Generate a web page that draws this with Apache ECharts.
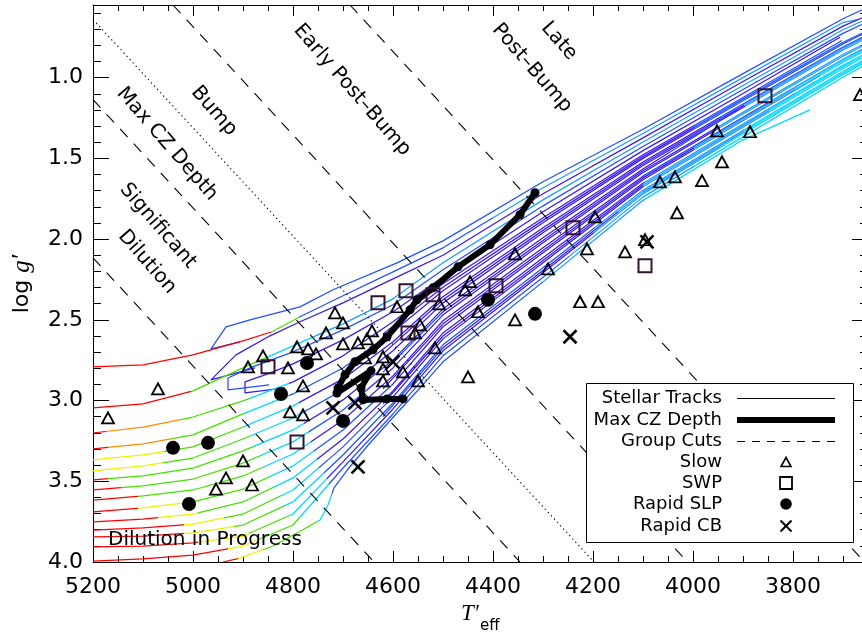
<!DOCTYPE html>
<html>
<head>
<meta charset="utf-8">
<script src="https://cdn.jsdelivr.net/npm/echarts@6/dist/echarts.min.js"></script>
<style>
html, body { margin: 0; padding: 0; background: #ffffff; }
#chart { width: 862px; height: 632px; }
</style>
</head>
<body>
<div id="chart"></div>
<script>
// ---- axes ----
const tRange = [3650, 5200];          // T'eff (K), drawn hot -> cool
const gRange = [0.55, 4.0];           // log g', drawn low -> high downward
const tMajor = [3800, 4000, 4200, 4400, 4600, 4800, 5000, 5200];
const gMajor = [1.0, 1.5, 2.0, 2.5, 3.0, 3.5, 4.0];

// ---- stellar tracks: [T'eff, log g'] ----
// phase arrays: [T'eff where the phase starts, phase code]
const track01 = [[4906,2.637],[4964,2.680],[4934,2.544],[4886,2.500],[4786,2.420],[4720,2.314],[4592,2.147],[4500,2.011],[4300,1.645],[4100,1.320],[3900,0.975],[3700,0.635],[3655,0.570]];
const phase01 = [[5200,6]];
const track02 = [[5200,2.791],[5100,2.779],[5000,2.717],[4900,2.630],[4842,2.574],[4786,2.481],[4700,2.351],[4600,2.203],[4500,2.054],[4300,1.682],[4100,1.346],[3900,1.000],[3700,0.658],[3670,0.640]];
const phase02 = [[5200,0],[4842,3],[4786,6],[4400,5]];
const track03 = [[4876,2.798],[4964,2.872],[4914,2.717],[4846,2.599],[4786,2.512],[4700,2.395],[4600,2.246],[4500,2.100],[4300,1.719],[4100,1.373],[3900,1.024],[3700,0.681],[3655,0.620]];
const phase03 = [[5200,7]];
const track04 = [[5200,3.045],[5100,3.021],[5000,2.940],[4900,2.798],[4800,2.661],[4700,2.525],[4600,2.370],[4500,2.147],[4300,1.757],[4100,1.399],[3900,1.049],[3700,0.703],[3655,0.640]];
const phase04 = [[5200,0],[5000,3],[4850,4],[4760,5]];
const track05 = [[4848,2.903],[4930,2.934],[4930,2.860],[4886,2.798],[4800,2.698],[4700,2.562],[4600,2.407],[4500,2.190],[4300,1.794],[4100,1.426],[3900,1.073],[3700,0.726],[3655,0.660]];
const phase05 = [[5200,6]];
const track06 = [[4816,2.922],[4896,2.953],[4896,2.884],[4856,2.841],[4800,2.773],[4700,2.624],[4600,2.450],[4500,2.235],[4300,1.831],[4100,1.452],[3900,1.098],[3706,0.750]];
const phase06 = [[5200,7]];
const track07 = [[5200,3.201],[5100,3.164],[5000,3.102],[4900,3.002],[4800,2.884],[4700,2.723],[4600,2.512],[4500,2.277],[4300,1.868],[4100,1.478],[3900,1.123],[3702,0.770]];
const phase07 = [[5200,0],[5170,1],[5020,3],[4886,4],[4806,7],[4000,6]];
const track08 = [[5200,3.300],[5100,3.269],[5000,3.213],[4900,3.083],[4800,2.959],[4700,2.798],[4600,2.574],[4500,2.320],[4300,1.899],[4100,1.500],[3900,1.143],[3700,0.791],[3655,0.720]];
const phase08 = [[5200,0],[5166,1],[5040,3],[4896,4],[4806,6],[4650,7],[4000,6]];
const track09 = [[5200,3.368],[5100,3.337],[5000,3.287],[4900,3.164],[4800,3.033],[4700,2.866],[4600,2.636],[4500,2.357],[4300,1.930],[4100,1.522],[3900,1.164],[3700,0.810],[3655,0.740]];
const phase09 = [[5200,2],[5054,3],[4896,4],[4786,7],[3950,6]];
const track10 = [[5200,3.436],[5100,3.405],[5000,3.356],[4900,3.238],[4800,3.108],[4700,2.934],[4600,2.692],[4500,2.395],[4300,1.961],[4100,1.544],[3900,1.184],[3700,0.829],[3655,0.760]];
const phase10 = [[5200,2],[5056,3],[4886,4],[4786,6],[4700,7],[3900,5]];
const track11 = [[5200,3.492],[5100,3.467],[5000,3.418],[4900,3.312],[4800,3.182],[4700,2.996],[4600,2.748],[4500,2.432],[4300,1.992],[4100,1.566],[3912,1.200]];
const phase11 = [[5200,0],[5166,3],[4876,4],[4776,7],[4050,6]];
const track12 = [[5200,3.554],[5100,3.529],[5000,3.486],[4900,3.387],[4800,3.256],[4700,3.058],[4600,2.798],[4500,2.469],[4300,2.023],[4100,1.588],[3900,1.225],[3700,0.867],[3655,0.795]];
const phase12 = [[5200,0],[5140,3],[4866,4],[4766,6],[4650,7],[3950,5]];
const track13 = [[5200,3.616],[5100,3.591],[5000,3.554],[4900,3.467],[4800,3.331],[4700,3.120],[4600,2.847],[4500,2.506],[4300,2.054],[4100,1.610],[3900,1.246],[3700,0.886],[3655,0.813]];
const phase13 = [[5200,0],[5106,3],[4856,4],[4762,7],[4100,6],[3850,5]];
const track14 = [[5200,3.690],[5100,3.665],[5000,3.628],[4900,3.548],[4800,3.405],[4700,3.182],[4600,2.897],[4500,2.543],[4300,2.085],[4100,1.632],[3900,1.266],[3700,0.905],[3655,0.831]];
const phase14 = [[5200,0],[5106,2],[5006,3],[4846,4],[4756,6],[4600,7],[4000,5],[3750,4]];
const track15 = [[5200,3.752],[5100,3.734],[5000,3.703],[4900,3.628],[4800,3.479],[4700,3.238],[4600,2.940],[4500,2.581],[4300,2.116],[4100,1.654],[3900,1.287],[3700,0.924],[3655,0.849]];
const phase15 = [[5200,0],[5066,2],[4986,3],[4836,4],[4750,7],[4100,5],[3800,4]];
const track16 = [[5200,3.802],[5100,3.789],[5000,3.765],[4900,3.703],[4800,3.554],[4700,3.287],[4600,2.977],[4500,2.618],[4300,2.147],[4100,1.676],[3900,1.307],[3700,0.943],[3655,0.867]];
const phase16 = [[5200,0],[5014,2],[4934,3],[4826,4],[4746,6],[4600,7],[4100,5],[3850,4]];
const track17 = [[5200,3.845],[5100,3.839],[5000,3.820],[4900,3.771],[4800,3.628],[4700,3.337],[4600,3.015],[4500,2.655],[4300,2.178],[4100,1.698],[3900,1.328],[3700,0.962],[3655,0.885]];
const phase17 = [[5200,0],[5014,2],[4914,3],[4816,4],[4736,6],[4200,5],[3900,4]];
const track18 = [[5200,3.907],[5100,3.901],[5000,3.882],[4900,3.839],[4800,3.703],[4700,3.380],[4600,3.052],[4500,2.692],[4300,2.209],[4100,1.720],[3900,1.348],[3700,0.981],[3655,0.903]];
const phase18 = [[5200,0],[4986,2],[4886,3],[4806,4],[4730,7],[4200,5],[3950,4]];
const track19 = [[5200,3.994],[5100,3.981],[5000,3.957],[4900,3.901],[4800,3.771],[4700,3.418],[4600,3.083],[4500,2.723],[4300,2.237],[4100,1.740],[3900,1.367],[3700,0.998],[3655,0.919]];
const phase19 = [[5200,0],[4926,2],[4866,3],[4786,4],[4726,6],[4250,5],[4000,4]];
const track20 = [[4940,4.000],[4906,3.976],[4840,3.901],[4792,3.820],[4746,3.740],[4730,3.647],[4718,3.541],[4690,3.424],[4646,3.263],[4592,3.077],[4546,2.922],[4500,2.760],[4300,2.265],[4100,1.760],[3900,1.385],[3766,1.200]];
const phase20 = [[5200,0],[4906,2],[4856,3],[4746,4],[4718,6],[4300,5],[4100,4]];
// tracks first seen inside the giant-branch band
const track21 = [[4620,2.587],[4500,2.298],[4300,1.884],[4100,1.489],[3900,1.133],[3700,0.781],[3655,0.714]];
const phase21 = [[5200,7],[4000,6]];
const track22 = [[4620,2.711],[4500,2.376],[4300,1.946],[4100,1.533],[3900,1.174],[3700,0.819],[3655,0.750]];
const phase22 = [[5200,7],[3900,5]];
const track23 = [[4620,2.824],[4500,2.450],[4300,2.008],[4100,1.577],[3900,1.215],[3700,0.857],[3655,0.786]];
const phase23 = [[5200,6],[4500,7],[3950,5]];
const track24 = [[4620,2.928],[4500,2.525],[4300,2.070],[4100,1.621],[3900,1.256],[3700,0.895],[3655,0.822]];
const phase24 = [[5200,7],[4000,5],[3800,4]];
const track25 = [[4620,3.020],[4500,2.600],[4300,2.132],[4100,1.665],[3900,1.297],[3700,0.933],[3655,0.858]];
const phase25 = [[5200,7],[4100,5],[3850,4]];
const track26 = [[4620,3.100],[4500,2.673],[4300,2.194],[4100,1.709],[3900,1.338],[3700,0.971],[3655,0.894]];
const phase26 = [[5200,6],[4500,7],[4150,5],[3900,4]];

// ---- maximum convective-zone depth ----
const czDepth = [[4316,1.713],[4346,1.849],[4406,2.035],[4470,2.172],[4520,2.302],[4552,2.376],[4566,2.438],[4612,2.606],[4640,2.686],[4676,2.760],[4696,2.841],[4710,2.922],[4712,2.953],[4644,2.816],[4664,2.922],[4660,2.996],[4612,2.990],[4580,2.990]];

// ---- group cuts ----
const cutDilution = [[5200,2.116],[4638,4.000]];
const cutMaxCZ    = [[5200,1.136],[4346,4.000]];
const cutBump     = [[5200,0.640],[4198,4.000]];
const cutEarly    = [[5040,0.550],[4011,4.000]];
const cutLate     = [[4686,0.550],[3657,4.000]];

// ---- stars ----
const slowStars = [[5170,3.107],[5070,2.928],[4860,2.723],[4890,2.791],[4810,2.798],[4792,2.667],[4806,3.070],[4900,3.374],[4934,3.479],[4954,3.548],[4882,3.523],
  [4716,2.457],[4700,2.519],[4734,2.581],[4770,2.680],[4754,2.711],[4700,2.649],[4670,2.643],[4652,2.618],[4780,2.909],[4780,3.089],[4642,2.568],[4592,2.419],
  [4446,2.264],[4456,2.314],[4508,2.401],[4430,2.450],[4546,2.531],[4556,2.581],[4516,2.674],[4656,2.736],[4620,2.729],[4620,2.804],[4580,2.822],[4620,2.878],[4550,2.878],[4450,2.853],
  [4356,2.500],[4226,2.388],[4190,2.388],[4356,2.091],[4290,2.184],[4212,2.060],[4196,1.862],
  [3666,1.105],[3952,1.329],[3886,1.335],[3942,1.521],[4066,1.645],[4036,1.614],[3982,1.638],[4032,1.837],[4136,2.079],[4096,2.004]];
const swpStars = [[4850,2.791],[4792,3.256],[4630,2.395],[4574,2.320],[4520,2.345],[4570,2.581],[4394,2.289],[4240,1.930],[4096,2.165],[3856,1.112]];
const rapidSLP = [[5040,3.293],[4970,3.262],[5008,3.641],[4824,2.959],[4772,2.767],[4700,3.126],[4410,2.376],[4316,2.463]];
const rapidCB  = [[4720,3.045],[4676,3.014],[4670,3.411],[4246,2.605],[4600,2.760],[4092,2.017]];

// ---- text ----
const legendLabels = ['Stellar Tracks', 'Max CZ Depth', 'Group Cuts', 'Slow', 'SWP', 'Rapid SLP', 'Rapid CB'];
const regionLabels = ['Bump', 'Max CZ Depth', 'Significant', 'Dilution', 'Early Post\u2013Bump', 'Late', 'Post\u2013Bump'];

// ================= drawing =================
const phaseColours = ['#ff0000', '#ff8c00', '#f0f000', '#44e000', '#00d8ff', '#1a9cff', '#2050ff', '#3a1ae6'];
const SANS = 'DejaVu Sans';

const tMinor = [];
for (let t = tRange[0]; t <= tRange[1]; t += 50) if (t % 200 !== 0) tMinor.push(t);
const gMinor = [];
for (let k = 6; k <= 39; k++) if (k % 5 !== 0) gMinor.push(k / 10);

function trackColour(pts, phase) {
  if (phase.length === 1) return phaseColours[phase[0][1]];
  const ts = pts.map(p => p[0]);
  const hi = Math.max(...ts), lo = Math.min(...ts);
  const at = t => Math.min(1, Math.max(0, (hi - t) / (hi - lo)));
  const stops = [];
  phase.forEach((p, i) => {
    const a = at(p[0]);
    const b = i + 1 < phase.length ? at(phase[i + 1][0]) : 1;
    stops.push({ offset: a, color: phaseColours[p[1]] }, { offset: b, color: phaseColours[p[1]] });
  });
  return new echarts.graphic.LinearGradient(0, 0, 1, 0, stops);
}

const trackList = [
  [track01, phase01], [track02, phase02], [track03, phase03], [track04, phase04], [track05, phase05],
  [track06, phase06], [track07, phase07], [track08, phase08], [track09, phase09], [track10, phase10],
  [track11, phase11], [track12, phase12], [track13, phase13], [track14, phase14], [track15, phase15],
  [track16, phase16], [track17, phase17], [track18, phase18], [track19, phase19], [track20, phase20],
  [track21, phase21], [track22, phase22], [track23, phase23], [track24, phase24], [track25, phase25],
  [track26, phase26]
];

const series = [];
trackList.forEach(([pts, ph]) => {
  series.push({
    type: 'line', data: pts, symbol: 'none', silent: true, z: 2,
    lineStyle: { width: 1.25, color: trackColour(pts, ph) }
  });
});

[[cutDilution, [11, 9]], [cutMaxCZ, [11, 9]], [cutBump, [1.3, 3.2]], [cutEarly, [11, 9]], [cutLate, [11, 9]]].forEach(([pts, dash]) => {
  series.push({
    type: 'line', data: pts, symbol: 'none', silent: true, z: 3,
    lineStyle: { width: 1.1, color: '#000', type: dash }
  });
});

series.push({
  type: 'line', data: czDepth, symbol: 'circle', symbolSize: 9, silent: true, z: 5,
  lineStyle: { width: 6, color: '#000', join: 'round', cap: 'round' },
  itemStyle: { color: '#000', opacity: 1 }
});

series.push({
  type: 'scatter', data: slowStars, symbol: 'triangle', symbolSize: [12, 11], silent: true, z: 6,
  itemStyle: { color: 'rgba(0,0,0,0)', borderColor: '#000', borderWidth: 1.8, opacity: 1 }
});
series.push({
  type: 'scatter', data: swpStars, symbol: 'rect', symbolSize: 13, silent: true, z: 6,
  itemStyle: { color: 'rgba(0,0,0,0)', borderColor: '#321432', borderWidth: 2, opacity: 1 }
});
series.push({
  type: 'scatter', data: rapidSLP, symbol: 'circle', symbolSize: 14, silent: true, z: 6,
  itemStyle: { color: '#000', opacity: 1 }
});
series.push({
  type: 'scatter', data: rapidCB, symbol: 'path://M0,0L10,10M10,0L0,10', symbolSize: 13, silent: true, z: 6,
  itemStyle: { color: 'rgba(0,0,0,0)', borderColor: '#000', borderWidth: 2.6, opacity: 1 }
});

function xAxis(position, values, len, labels, line) {
  return {
    type: 'value', position, min: tRange[0], max: tRange[1], inverse: true,
    axisLine: { show: line, lineStyle: { color: '#000', width: 1 } },
    axisTick: { show: true, inside: true, length: len, customValues: values, lineStyle: { color: '#000', width: 1 } },
    axisLabel: labels ? { show: true, customValues: values, margin: 14, color: '#000', fontSize: 22, fontFamily: SANS,
      formatter: v => String(Math.round(v)) } : { show: false },
    splitLine: { show: false }
  };
}
function yAxis(position, values, len, labels, line) {
  return {
    type: 'value', position, min: gRange[0], max: gRange[1], inverse: true,
    axisLine: { show: line, lineStyle: { color: '#000', width: 1 } },
    axisTick: { show: true, inside: true, length: len, customValues: values, lineStyle: { color: '#000', width: 1 } },
    axisLabel: labels ? { show: true, customValues: values, margin: 10, color: '#000', fontSize: 22, fontFamily: SANS,
      formatter: v => Number(v).toFixed(1) } : { show: false },
    splitLine: { show: false }
  };
}

// legend block
const LX = 586, LY = 383, LW = 267, LH = 159;
const rowY = [398, 420, 441, 462, 483, 504, 526];
const legendGraphics = [
  { type: 'rect', z: 100, shape: { x: LX + 0.5, y: LY + 0.5, width: LW, height: LH }, style: { fill: '#fff', stroke: '#000', lineWidth: 1 } }
];
legendLabels.forEach((txt, i) => {
  legendGraphics.push({ type: 'text', z: 101, x: 722, y: rowY[i],
    style: { text: txt, fontFamily: SANS, fontSize: 18, fill: '#000', align: 'right', verticalAlign: 'middle' } });
});
legendGraphics.push(
  { type: 'line', z: 101, shape: { x1: 737, y1: rowY[0] + 0.5, x2: 835, y2: rowY[0] + 0.5 }, style: { stroke: '#000', lineWidth: 1 } },
  { type: 'line', z: 101, shape: { x1: 737, y1: rowY[1], x2: 835, y2: rowY[1] }, style: { stroke: '#000', lineWidth: 6 } },
  { type: 'line', z: 101, shape: { x1: 737, y1: rowY[2] + 0.5, x2: 835, y2: rowY[2] + 0.5 }, style: { stroke: '#000', lineWidth: 1, lineDash: [8, 7] } },
  { type: 'polygon', z: 101, shape: { points: [[781, rowY[3] + 4.5], [791, rowY[3] + 4.5], [786, rowY[3] - 4.5]] }, style: { fill: 'none', stroke: '#000', lineWidth: 1.6 } },
  { type: 'rect', z: 101, shape: { x: 780, y: rowY[4] - 6, width: 12, height: 12 }, style: { fill: 'none', stroke: '#000', lineWidth: 1.8 } },
  { type: 'circle', z: 101, shape: { cx: 786, cy: rowY[5], r: 5.8 }, style: { fill: '#000' } },
  { type: 'line', z: 101, shape: { x1: 780.5, y1: rowY[6] - 5.5, x2: 791.5, y2: rowY[6] + 5.5 }, style: { stroke: '#000', lineWidth: 2 } },
  { type: 'line', z: 101, shape: { x1: 791.5, y1: rowY[6] - 5.5, x2: 780.5, y2: rowY[6] + 5.5 }, style: { stroke: '#000', lineWidth: 2 } }
);

// region names along the cuts
const regionPos = [[214, 111], [167, 144], [158, 226], [147, 262], [352, 90], [559, 41], [532, 68]];
const regionGraphics = regionLabels.map((txt, i) => ({
  type: 'text', z: 90, x: regionPos[i][0], y: regionPos[i][1], rotation: -0.855,
  style: { text: txt, fontFamily: SANS, fontSize: 20, fill: '#000', align: 'center', verticalAlign: 'middle' }
}));

const titleGraphics = [
  { type: 'text', z: 90, x: 108, y: 540,
    style: { text: 'Dilution in Progress', fontFamily: SANS, fontSize: 20, fill: '#000', align: 'left', verticalAlign: 'middle' } },
  { type: 'text', z: 90, x: 22, y: 284, rotation: Math.PI / 2,
    style: { text: '{n|log }{i|g\u2032}', align: 'center', verticalAlign: 'middle',
      rich: { n: { fontFamily: SANS, fontSize: 22, fill: '#000' },
              i: { fontFamily: 'Liberation Serif', fontStyle: 'italic', fontSize: 25, fill: '#000' } } } },
  { type: 'text', z: 90, x: 461, y: 614,
    style: { text: 'T\u2032', fontFamily: 'Liberation Serif', fontStyle: 'italic', fontSize: 23, fill: '#000', align: 'left', verticalAlign: 'middle' } },
  { type: 'text', z: 90, x: 480, y: 626,
    style: { text: 'eff', fontFamily: SANS, fontSize: 15, fill: '#000', align: 'left', verticalAlign: 'middle' } }
];

const chart = echarts.init(document.getElementById('chart'), null, { renderer: 'canvas' });
chart.setOption({
  animation: false,
  backgroundColor: '#ffffff',
  grid: { left: 93, top: 5, width: 775, height: 557, containLabel: false, outerBoundsMode: 'none' },
  xAxis: [
    xAxis('bottom', tMajor, 11, true, true),
    xAxis('bottom', tMinor, 6, false, false),
    xAxis('top', tMajor, 11, false, true),
    xAxis('top', tMinor, 6, false, false)
  ],
  yAxis: [
    yAxis('left', gMajor, 16, true, true),
    yAxis('left', gMinor, 8, false, false),
    yAxis('right', gMajor, 16, false, true),
    yAxis('right', gMinor, 8, false, false)
  ],
  series,
  graphic: [...legendGraphics, ...regionGraphics, ...titleGraphics]
});
</script>
</body>
</html>
